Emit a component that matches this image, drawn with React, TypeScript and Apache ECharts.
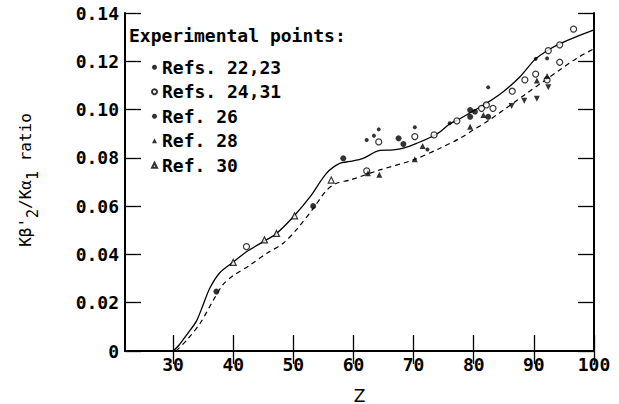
import React, { useEffect, useRef } from "react";
import * as echarts from "echarts";

const xTicks = [30, 40, 50, 60, 70, 80, 90, 100];

const solidCurve: [number, number][] = [
  [30, 0], [31, 0.0025], [32.5, 0.0075], [33.9, 0.0125], [35, 0.0192], [36.1, 0.026],
  [37.8, 0.0325], [40, 0.0368], [42.2, 0.0411], [45, 0.0453], [47.2, 0.0487], [50, 0.0556],
  [52.8, 0.0639], [55.5, 0.0736], [57.7, 0.0777], [59.4, 0.0785], [61.6, 0.0798], [64.4, 0.0831],
  [66.6, 0.0833], [68.3, 0.084], [70.5, 0.086], [73.8, 0.0898], [76, 0.094], [77.7, 0.0962],
  [82.1, 0.1026], [84.9, 0.1074], [87.7, 0.1136], [90.2, 0.1208], [92.4, 0.1247], [94.3, 0.1272],
  [97.1, 0.1302], [100, 0.133],
];

const dashedCurve: [number, number][] = [
  [30.5, 0], [32.3, 0.0046], [34.5, 0.0115], [36.7, 0.0211], [38.3, 0.0275], [40, 0.0312],
  [42.8, 0.0356], [45.6, 0.0405], [48.3, 0.0446], [50.6, 0.0505], [53.3, 0.059], [55.5, 0.0665],
  [57.2, 0.0695], [59.4, 0.0708], [64.4, 0.075], [69.9, 0.0791], [74.4, 0.084], [77.7, 0.0881],
  [79.9, 0.0915], [82.5, 0.0955], [88.8, 0.1067], [94.3, 0.1164], [97.1, 0.1212], [100, 0.1252],
];

const refs2223: [number, number][] = [
  [62.2, 0.0874], [63.4, 0.0892], [64.2, 0.0918], [70.2, 0.0927], [72.3, 0.0835],
  [82.4, 0.1092], [90.3, 0.121], [92.2, 0.1212], [76.0, 0.0943],
];
const refs2431: [number, number][] = [
  [42.2, 0.0432], [62.2, 0.0746], [64.2, 0.0866], [70.2, 0.0888], [73.4, 0.0895], [77.2, 0.0953],
  [81.3, 0.1005], [82.1, 0.1019], [83.2, 0.1005], [86.4, 0.1076], [88.5, 0.1123], [90.3, 0.1147],
  [92.2, 0.1123], [92.4, 0.1244], [94.3, 0.1268], [94.3, 0.1196], [96.6, 0.1333],
];
const ref26: [number, number][] = [
  [37.2, 0.0246], [53.3, 0.06], [58.3, 0.0798], [67.5, 0.0881], [68.3, 0.0857],
  [79.4, 0.0998], [80.2, 0.0991], [79.4, 0.097], [82.4, 0.097],
];
const ref28: [number, number][] = [
  [62.4, 0.0736], [64.3, 0.073], [70.2, 0.0794], [71.5, 0.0849], [79.4, 0.0929], [81.6, 0.0978],
  [90.5, 0.112], [92.2, 0.1139],
];
const ref28Inverted: [number, number][] = [
  [92.4, 0.1092], [86.3, 0.1015], [88.4, 0.1037], [90.5, 0.1045],
];
const ref30: [number, number][] = [
  [40.0, 0.0367], [45.2, 0.046], [47.2, 0.0487], [50.2, 0.056], [56.3, 0.0708],
];

const seriesNames = ["Refs. 22,23", "Refs. 24,31", "Ref. 26", "Ref. 28", "Ref. 30"];
const yNameParts = [
  { text: "Kβ'", sub: false },
  { text: "2", sub: true },
  { text: "/Kα", sub: false },
  { text: "1", sub: true },
  { text: " ratio", sub: false },
];

const MONO = "'DejaVu Sans Mono', monospace";

export default function App() {
  const ref = useRef<HTMLDivElement>(null);
  useEffect(() => {
    document.body.style.margin = "0";
    const chart = echarts.init(ref.current!, null, { renderer: "svg" });
    const axisLine = { show: true, lineStyle: { color: "#000", width: 2 } };
    const tick = { show: true, inside: true, length: 16, lineStyle: { color: "#000", width: 1.3 } };
    const labelStyle = { color: "#000", fontFamily: MONO, fontWeight: "bold" as const, fontSize: 18 };
    const scatterBase = { type: "scatter" as const, z: 5 };
    const ref28Data = [
      ...ref28.map((p) => ({ value: p })),
      ...ref28Inverted.map((p) => ({ value: p, symbolRotate: 180 })),
    ];

    // y-axis title with dropped subscripts, laid out along a rotated group
    const mainSize = 16;
    const subSize = 15;
    let offset = 0;
    const nameChildren = yNameParts.map((p) => {
      const size = p.sub ? subSize : mainSize;
      const el = {
        type: "text",
        x: offset,
        y: p.sub ? 8 : 0,
        style: {
          text: p.text,
          fontFamily: MONO,
          fontSize: size,
          fill: "#000",
          align: "left",
          verticalAlign: "middle",
        },
      };
      offset += p.text.length * size * 0.602;
      return el;
    });
    const nameCenterY = 180;

    chart.setOption({
      animation: false,
      backgroundColor: "#fff",
      title: {
        text: "Experimental points:",
        left: 124,
        top: 21,
        textStyle: { ...labelStyle },
      },
      legend: {
        data: seriesNames,
        orient: "vertical",
        left: 146,
        top: 52,
        itemWidth: 5,
        itemHeight: 5,
        itemGap: 4,
        textStyle: { ...labelStyle, lineHeight: 20.5 },
      },
      graphic: [
        {
          type: "group",
          x: 25,
          y: nameCenterY + offset / 2,
          rotation: Math.PI / 2,
          children: nameChildren,
        },
      ],
      grid: { left: 125, right: 25, top: 13, bottom: 53, containLabel: false, outerBoundsMode: "none" },
      xAxis: [
        {
          type: "value",
          min: 22,
          max: 100,
          name: "Z",
          nameLocation: "middle",
          nameGap: 36,
          nameTextStyle: { color: "#000", fontFamily: "'DejaVu Sans', sans-serif", fontSize: 17 },
          axisLine,
          axisTick: { ...tick, customValues: xTicks },
          axisLabel: { ...labelStyle, margin: 4, customValues: xTicks },
          splitLine: { show: false },
        },
        {
          type: "value",
          position: "top",
          min: 22,
          max: 100,
          axisLine,
          axisTick: { ...tick, length: 13, customValues: xTicks },
          axisLabel: { show: false },
          splitLine: { show: false },
        },
      ],
      yAxis: [
        {
          type: "value",
          min: 0,
          max: 0.14,
          interval: 0.02,
          axisLine,
          axisTick: tick,
          axisLabel: {
            ...labelStyle,
            margin: 6,
            formatter: (v: number) => (v === 0 ? "0" : v.toFixed(2)),
          },
          splitLine: { show: false },
        },
        {
          type: "value",
          position: "right",
          min: 0,
          max: 0.14,
          interval: 0.02,
          axisLine,
          axisTick: tick,
          axisLabel: { show: false },
          splitLine: { show: false },
        },
      ],
      series: [
        {
          type: "line",
          data: solidCurve,
          smooth: 0.3,
          showSymbol: false,
          lineStyle: { color: "#000", width: 1.3 },
          z: 3,
        },
        {
          type: "line",
          data: dashedCurve,
          smooth: 0.3,
          showSymbol: false,
          lineStyle: { color: "#000", width: 1.2, type: [5, 4] },
          z: 3,
        },
        {
          ...scatterBase,
          name: seriesNames[0],
          data: refs2223,
          symbol: "circle",
          symbolSize: 4,
          itemStyle: { color: "#000" },
        },
        {
          ...scatterBase,
          name: seriesNames[1],
          data: refs2431,
          symbol: "circle",
          symbolSize: 6,
          itemStyle: { color: "#fff", borderColor: "#000", borderWidth: 1.2 },
        },
        {
          ...scatterBase,
          name: seriesNames[2],
          data: ref26,
          symbol: "circle",
          symbolSize: 6,
          itemStyle: { color: "#000" },
        },
        {
          ...scatterBase,
          name: seriesNames[3],
          data: ref28Data,
          symbol: "triangle",
          symbolSize: 6,
          itemStyle: { color: "#000" },
        },
        {
          ...scatterBase,
          name: seriesNames[4],
          data: ref30,
          symbol: "triangle",
          symbolSize: 6,
          itemStyle: { color: "#fff", borderColor: "#000", borderWidth: 1.2 },
        },
      ],
    });
    return () => chart.dispose();
  }, []);
  return <div ref={ref} style={{ width: 619, height: 404 }} />;
}
